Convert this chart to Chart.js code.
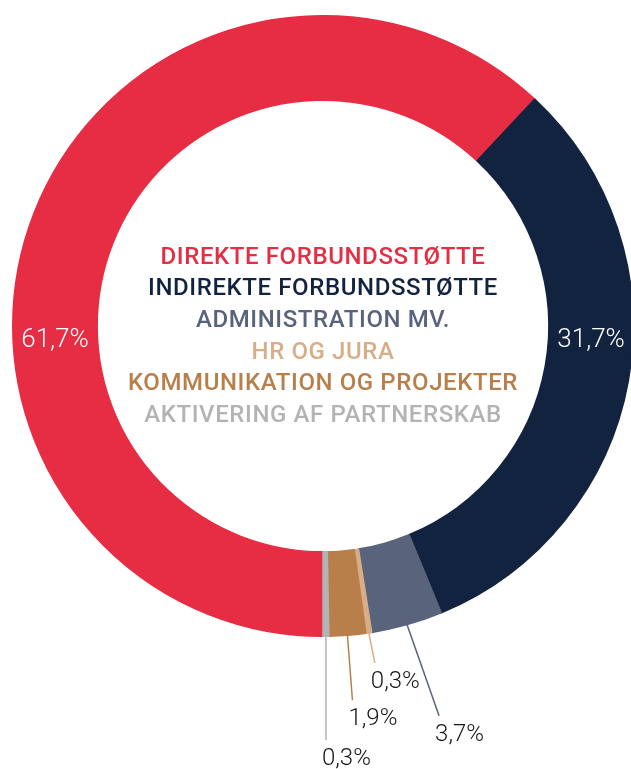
<!DOCTYPE html>
<html>
<head>
<meta charset="utf-8">
<script src="https://cdn.jsdelivr.net/npm/chart.js@4.4.1/dist/chart.umd.min.js"></script>
<style>
  html, body { margin: 0; padding: 0; background: #fff; overflow: hidden; width: 631px; height: 769px; }
  canvas { display: block; }
</style>
</head>
<body>
<canvas id="chart" width="660" height="769"></canvas>
<script>
const categories = [
  "DIREKTE FORBUNDSSTØTTE",
  "INDIREKTE FORBUNDSSTØTTE",
  "ADMINISTRATION MV.",
  "HR OG JURA",
  "KOMMUNIKATION OG PROJEKTER",
  "AKTIVERING AF PARTNERSKAB",
];
const shares = [61.7, 31.7, 3.7, 0.3, 1.9, 0.3];
const colors = ["#e72d43", "#12233f", "#5a637c", "#d7ae88", "#b97f4a", "#b3b3b3"];

// where the leader line of each thin slice ends, relative to the outer edge
const leaderOffsets = [null, null, [32, 91], [6, 30], [5, 65], [0, 104]];

const formatShare = (v) => v.toFixed(1).replace(".", ",") + "%";

const ringLabels = {
  id: "ringLabels",
  afterDraw(chart) {
    const ctx = chart.ctx;
    const arcs = chart.getDatasetMeta(0).data;
    const cx = arcs[0].x;
    const cy = arcs[0].y;
    const midR = (arcs[0].innerRadius + arcs[0].outerRadius) / 2;
    ctx.save();

    // legend in the hole
    ctx.font = "500 24px Roboto";
    ctx.letterSpacing = "0.6px";
    ctx.textAlign = "center";
    ctx.textBaseline = "alphabetic";
    categories.forEach((name, i) => {
      ctx.fillStyle = colors[i];
      ctx.fillText(name, cx, cy - 62.5 + i * 31.7);
    });
    ctx.letterSpacing = "0px";

    // big slices: white value inside the ring
    ctx.font = "300 26px Roboto";
    ctx.fillStyle = "#ffffff";
    [0, 1].forEach((i) => {
      const side = i === 0 ? -1 : 1;
      ctx.fillText(formatShare(shares[i]), cx + side * midR, cy + 20.5);
    });

    // thin slices: leader line and value below
    ctx.font = "300 24px Roboto";
    ctx.textAlign = "left";
    arcs.forEach((arc, i) => {
      const off = leaderOffsets[i];
      if (!off) return;
      const mid = (arc.startAngle + arc.endAngle) / 2;
      const x0 = cx + Math.cos(mid) * arc.outerRadius;
      const y0 = cy + Math.sin(mid) * arc.outerRadius;
      const x1 = x0 + off[0];
      const y1 = y0 + off[1];
      ctx.strokeStyle = colors[i];
      ctx.lineWidth = 1.5;
      ctx.beginPath();
      ctx.moveTo(x0, y0);
      ctx.lineTo(x1, y1);
      ctx.stroke();
      ctx.fillStyle = "#161616";
      ctx.fillText(formatShare(shares[i]), x1 - 4, y1 + 25);
    });
    ctx.restore();
  },
};

new Chart(document.getElementById("chart"), {
  type: "doughnut",
  data: {
    labels: categories,
    datasets: [
      {
        data: shares,
        backgroundColor: colors,
        borderColor: colors,
        borderWidth: 1.5,
      },
    ],
  },
  options: {
    responsive: false,
    animation: false,
    rotation: 180,
    cutout: "72.8%",
    layout: {
      padding: { left: 12, top: 15, right: 26, bottom: 132 },
    },
    plugins: {
      legend: { display: false },
      tooltip: { enabled: false },
    },
  },
  plugins: [ringLabels],
});
</script>
</body>
</html>
